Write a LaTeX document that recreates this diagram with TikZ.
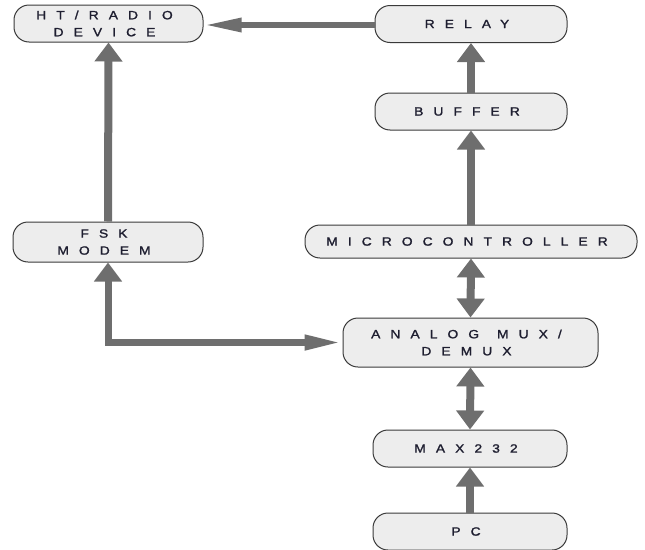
\documentclass[tikz,border=0pt]{standalone}
\usepackage{fontspec}
\setmainfont{Liberation Sans}[LetterSpace=84, FakeStretch=1.15, FakeBold=1.5]
\usetikzlibrary{arrows.meta}
\definecolor{boxfill}{HTML}{EDEDED}
\definecolor{boxline}{HTML}{3A3A3A}
\definecolor{arrowgray}{HTML}{6E6E6E}
\definecolor{txt}{HTML}{1E1E30}
\newcommand\trk[1]{#1\hspace*{8pt}}
\tikzset{
  blk/.style={draw=boxline, line width=1pt, fill=boxfill, rounded corners=15pt,
    minimum height=#1, inner sep=0pt, align=center, text=txt,
    font=\fontsize{12}{17}\selectfont},
  blk/.default=37pt,
  varrow/.style={draw=arrowgray, line width=8pt, -{Triangle[width=27pt,length=19pt]}},
  dvarrow/.style={draw=arrowgray, line width=8pt, {Triangle[width=27pt,length=19pt]}-{Triangle[width=27pt,length=19pt]}},
  harrow/.style={draw=arrowgray, line width=6pt, -{Triangle[width=13pt,length=38pt]}},
  elbow/.style={draw=arrowgray, line width=7pt, {Triangle[width=14pt,length=38pt]}-{Triangle[width=27pt,length=19pt]}},
}
\begin{document}
\begin{tikzpicture}[x=1pt,y=-1pt]
\useasboundingbox (0,0) rectangle (645,549);
\node[blk, minimum width=189pt] (ht) at (108.5,23.5) {\trk{HT/RADIO}\\\trk{DEVICE}};
\node[blk, minimum width=192pt] (relay) at (471,24) {\trk{RELAY}};
\node[blk, minimum width=192pt] (buffer) at (471,111.5) {\trk{BUFFER}};
\node[blk=40pt, minimum width=190pt] (fsk) at (108,242) {\trk{FSK}\\\trk{MODEM}};
\node[blk=33pt, minimum width=332pt] (micro) at (471,241.5) {\trk{MICROCONTROLLER}};
\node[blk=49pt, minimum width=255pt] (mux) at (470.5,342.5) {\trk{ANALOG\hspace*{18pt}MUX/}\\\trk{DEMUX}};
\node[blk, minimum width=194pt] (max) at (470,448.5) {\trk{MAX232}};
\node[blk, minimum width=194pt] (pc) at (470,531.5) {\trk{PC}};

\draw[harrow] (relay.west |- 0,25) -- (ht.east |- 0,25);
\draw[varrow] (fsk.north) -- (ht.south);
\draw[varrow] (buffer.north) -- (relay.south);
\draw[varrow] (micro.north) -- (buffer.south);
\draw[dvarrow] (micro.south) -- (mux.north);
\draw[dvarrow] (mux.south) -- (max.north);
\draw[varrow] (pc.north) -- (max.south);
\draw[elbow] (mux.west) -| (fsk.south);
\end{tikzpicture}
\end{document}
